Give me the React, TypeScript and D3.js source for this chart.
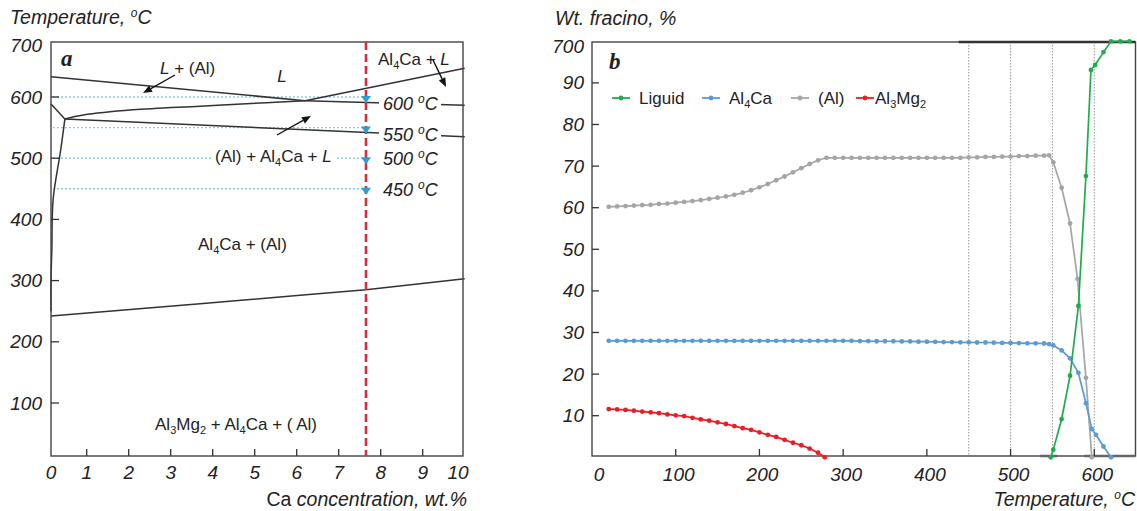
import React from 'react';
import * as d3 from 'd3';

const W = 1137;
const H = 511;

// ---------- Panel a: phase diagram ----------
const caTicks = [0, 1, 2, 3, 4, 5, 6, 7, 8, 9, 10];
const tempTicksA = [100, 200, 300, 400, 500, 600, 700];
const sectionCa = 7.65;
const sectionTemps = [600, 550, 500, 450];

type P = [number, number];
const liquidusAl: P[] = [[0.15, 633], [6.2, 594]];
const liquidusAl4Ca: P[] = [[6.2, 594], [10, 647]];
const eutecticLine: P[] = [[6.2, 594], [10, 586.5]];
const ternaryUpper: P[] = [[0.48, 564], [0.92, 570.5], [2.1, 579], [3.7, 585], [5.28, 590.7], [6.2, 594]];
const ternaryLower: P[] = [[0.48, 564], [10, 535]];
const leftUpper: P[] = [[0.15, 588.6], [0.48, 564]];
const solvusAl: P[] = [[0.48, 564], [0.38, 513], [0.2, 432], [0.17, 350], [0.15, 300], [0.15, 250]];
const solvusLow: P[] = [[0.15, 242], [3.7, 262], [6.08, 276], [7.65, 285], [10, 303]];

// ---------- Panel b: phase fractions ----------
const tempTicksB = [0, 100, 200, 300, 400, 500, 600];
const fracTicks = [10, 20, 30, 40, 50, 60, 70, 80, 90, 100];
const fracTickLabels = ['10', '20', '30', '40', '50', '60', '70', '80', '90', '700'];
const guideTemps = [450, 500, 550, 600];

const tempsLow = [20, 30, 40, 50, 60, 70, 80, 90, 100, 110, 120, 130, 140, 150, 160, 170, 180, 190, 200,
  210, 220, 230, 240, 250, 260, 270, 280, 290, 300, 310, 320, 330, 340, 350, 360, 370, 380, 390, 400,
  410, 420, 430, 440, 450, 460, 470, 480, 490, 500, 510, 520, 530, 540];

const al4caLow = [28.0, 28.0, 28.0, 28.0, 28.0, 28.0, 28.0, 28.0, 28.0, 28.0, 28.0, 28.0, 28.0, 28.0, 28.0,
  28.0, 28.0, 28.0, 28.0, 28.0, 28.0, 28.0, 28.0, 28.0, 28.0, 28.0, 28.0, 28.0, 28.0, 28.0, 27.95, 27.95,
  27.9, 27.9, 27.9, 27.85, 27.85, 27.8, 27.8, 27.75, 27.7, 27.7, 27.65, 27.65, 27.6, 27.6, 27.55, 27.5,
  27.5, 27.45, 27.4, 27.4, 27.35];
const al4caTailT = [546, 551, 561, 571, 581, 590, 597, 602, 611, 620];
const al4caTail = [27.2, 26.9, 25.7, 23.8, 20.3, 13.0, 6.8, 5.4, 2.6, 0];

const alLow = [60.2, 60.3, 60.4, 60.5, 60.6, 60.7, 60.9, 61.0, 61.2, 61.4, 61.6, 61.8, 62.1, 62.4, 62.7,
  63.1, 63.6, 64.2, 64.9, 65.7, 66.6, 67.5, 68.5, 69.5, 70.5, 71.4, 72.0, 72.0, 72.0, 72.0, 72.0, 72.0,
  72.0, 72.0, 72.0, 72.0, 72.0, 72.0, 72.0, 72.0, 72.0, 72.0, 72.0, 72.1, 72.1, 72.2, 72.2, 72.3, 72.3,
  72.4, 72.4, 72.5, 72.5];
const alTailT = [546, 551, 561, 571, 580, 590, 597];
const alTail = [72.6, 70.9, 64.8, 56.2, 42.9, 19.1, 0];

const mgT = [20, 30, 40, 50, 60, 70, 80, 90, 100, 110, 120, 130, 140, 150, 160, 170, 180, 190, 200, 210,
  220, 230, 240, 250, 260, 270, 278];
const al3mg2 = [11.6, 11.5, 11.4, 11.2, 11.0, 10.8, 10.6, 10.3, 10.1, 9.9, 9.5, 9.1, 8.8, 8.4, 8.0, 7.5,
  7.0, 6.6, 6.0, 5.4, 4.9, 4.2, 3.5, 2.9, 2.1, 1.1, 0];

const liquidT = [548, 551, 561, 571, 581, 590, 596, 601, 611, 620, 631, 642];
const liquid = [0, 1.8, 9.2, 19.6, 36.4, 67.6, 93.1, 94.3, 97.4, 100, 100, 100];

const COLORS = { liquid: '#1fad4b', al4ca: '#5b9bd5', al: '#a5a5a5', al3mg2: '#ec1c24' };

const FONT = "'Liberation Sans', Arial, Helvetica, sans-serif";
const SERIF = "'Liberation Serif', 'Times New Roman', serif";
const INK = '#222';
const TICK_FS = 19;
const TITLE_FS = 19.5;

const Deg = () => (
  <>
    <tspan dy={-7} fontSize={12}>o</tspan>
    <tspan dy={7}>C</tspan>
  </>
);
const Sub = ({ t }: { t: string }) => (
  <tspan dy={4} fontSize={11}>{t}</tspan>
);
const Al4Ca = () => (
  <>
    Al<Sub t="4" /><tspan dy={-4}>Ca</tspan>
  </>
);

function Arrow({ x1, y1, x2, y2 }: { x1: number; y1: number; x2: number; y2: number }) {
  const a = Math.atan2(y2 - y1, x2 - x1);
  const L = 9, w = 3.6;
  const bx = x2 - L * Math.cos(a), by = y2 - L * Math.sin(a);
  const p1 = [bx + w * Math.sin(a), by - w * Math.cos(a)];
  const p2 = [bx - w * Math.sin(a), by + w * Math.cos(a)];
  return (
    <g>
      <line x1={x1} y1={y1} x2={bx} y2={by} stroke="#111" strokeWidth={1.4} />
      <polygon points={`${x2},${y2} ${p1[0]},${p1[1]} ${p2[0]},${p2[1]}`} fill="#111" />
    </g>
  );
}

export default function App() {
  // Panel a scales
  const xA = d3.scaleLinear().domain([0, 10]).range([44.7, 464.7]);
  const yA = d3.scaleLinear().domain([100, 600]).range([403, 97]);
  const fA = { l: 51, r: 463, t: 42, b: 456 };
  const lineA = d3.line<P>().x(d => xA(d[0])).y(d => yA(d[1]));
  const smoothA = d3.line<P>().x(d => xA(d[0])).y(d => yA(d[1])).curve(d3.curveCatmullRom.alpha(0.5));

  // Panel b scales
  const xB = d3.scaleLinear().domain([0, 600]).range([592, 1094.3]);
  const yB = d3.scaleLinear().domain([0, 100]).range([457.3, 41.3]);
  const fB = { l: 592, r: 1135.5, t: 42, b: 456 };
  const lineB = d3.line<P>().x(d => xB(d[0])).y(d => yB(d[1]));

  const series = [
    { key: 'al3mg2', color: COLORS.al3mg2, pts: d3.zip(mgT, al3mg2) as P[] },
    { key: 'al', color: COLORS.al, pts: d3.zip(tempsLow.concat(alTailT), alLow.concat(alTail)) as P[] },
    { key: 'al4ca', color: COLORS.al4ca, pts: d3.zip(tempsLow.concat(al4caTailT), al4caLow.concat(al4caTail)) as P[] },
    { key: 'liquid', color: COLORS.liquid, pts: d3.zip(liquidT, liquid) as P[] },
  ];

  const legend = [
    { color: COLORS.liquid, x: 612, label: <>Liguid</> },
    { color: COLORS.al4ca, x: 702, label: <Al4Ca /> },
    { color: COLORS.al, x: 791, label: <>(Al)</> },
    { color: COLORS.al3mg2, x: 856, label: <>Al<Sub t="3" /><tspan dy={-4}>Mg</tspan><Sub t="2" /></> },
  ];

  const phaseLines = [liquidusAl, liquidusAl4Ca, eutecticLine, ternaryLower, leftUpper, solvusLow];
  const smoothLines = [ternaryUpper, solvusAl];
  const secX = xA(sectionCa);

  return (
    <svg width={W} height={H} viewBox={`0 0 ${W} ${H}`}
      style={{ position: 'absolute', left: 0, top: 0, background: '#fff' }}
      fontFamily={FONT}>
      <rect x={0} y={0} width={W} height={H} fill="#fff" />

      {/* ================= Panel a ================= */}
      <g>
        {sectionTemps.map(t => (
          <line key={'g' + t} x1={fA.l + 2} x2={secX - 3} y1={yA(t)} y2={yA(t)}
            stroke="#8ccbe6" strokeWidth={1.4} strokeDasharray="2,2" />
        ))}
        {phaseLines.map((p, i) => (
          <path key={'pl' + i} d={lineA(p) || ''} fill="none" stroke="#333" strokeWidth={1.5} />
        ))}
        {smoothLines.map((p, i) => (
          <path key={'sl' + i} d={smoothA(p) || ''} fill="none" stroke="#333" strokeWidth={1.5} />
        ))}

        <rect x={fA.l} y={fA.t} width={fA.r - fA.l} height={fA.b - fA.t} fill="none" stroke="#444" strokeWidth={1.4} />
        {tempTicksA.filter(v => v < 700).map(v => (
          <line key={'ya' + v} x1={fA.l} x2={fA.l + 8} y1={yA(v)} y2={yA(v)} stroke="#333" strokeWidth={1.3} />
        ))}
        {caTicks.filter(v => v > 0 && v < 10).map(v => (
          <line key={'xa' + v} x1={xA(v)} x2={xA(v)} y1={fA.b} y2={fA.b - 7} stroke="#333" strokeWidth={1.3} />
        ))}

        <rect x={212} y={146} width={124} height={22} fill="#fff" />
        <rect x={379} y={95} width={62} height={20} fill="#fff" />
        <rect x={379} y={125} width={62} height={20} fill="#fff" />

        <line x1={secX} x2={secX} y1={fA.t} y2={fA.b} stroke="#d52f3d" strokeWidth={2.6} strokeDasharray="8,4" />
        {sectionTemps.map(t => (
          <polygon key={'tri' + t}
            points={`${secX - 5},${yA(t) - 1} ${secX + 5},${yA(t) - 1} ${secX},${yA(t) + 6}`}
            fill="#2a9fd6" />
        ))}
        {sectionTemps.map((t, i) => (
          <text key={'tl' + t} x={383} y={yA(t) + (i < 2 ? 13 : 7)} fontSize={18} fontStyle="italic" fill={INK}>
            {t} <Deg />
          </text>
        ))}

        {tempTicksA.map(v => (
          <text key={'tya' + v} x={42} y={Math.max(yA(v), 45.5) + 6.5} textAnchor="end" fontSize={TICK_FS}
            fontStyle="italic" fill={INK}>{v}</text>
        ))}
        {caTicks.map(v => (
          <text key={'txa' + v} x={Math.min(Math.max(xA(v), 51), 458)} y={479} textAnchor="middle" fontSize={TICK_FS}
            fontStyle="italic" fill={INK}>{v}</text>
        ))}

        <text x={10} y={24} fontSize={TITLE_FS} fontStyle="italic" fill={INK}>Temperature, <Deg /></text>
        <text x={467} y={506} fontSize={TITLE_FS} textAnchor="end" fill={INK}>
          <tspan fontStyle="normal">Ca </tspan><tspan fontStyle="italic">concentration, wt.%</tspan>
        </text>
        <text x={61} y={66} fontSize={23} fontStyle="italic" fontWeight="bold" fontFamily={SERIF} fill={INK}>a</text>

        <text x={160} y={74} fontSize={17} fill={INK}><tspan fontStyle="italic">L</tspan> + (Al)</text>
        <text x={282} y={82} fontSize={17} fill={INK} textAnchor="middle" fontStyle="italic">L</text>
        <text x={378} y={65} fontSize={17} fill={INK}><Al4Ca /> + <tspan fontStyle="italic">L</tspan></text>
        <text x={215} y={162} fontSize={17} fill={INK}>(Al) + <Al4Ca /> + <tspan fontStyle="italic">L</tspan></text>
        <text x={198} y={250} fontSize={17} fill={INK}><Al4Ca /> + (Al)</text>
        <text x={155} y={430} fontSize={17} fill={INK}>
          Al<Sub t="3" /><tspan dy={-4}>Mg</tspan><Sub t="2" /><tspan dy={-4}> + </tspan><Al4Ca /> + ( Al)
        </text>

        <Arrow x1={175} y1={75} x2={143} y2={93} />
        <Arrow x1={433} y1={60} x2={446} y2={87} />
        <Arrow x1={277} y1={135} x2={311} y2={116} />
      </g>

      {/* ================= Panel b ================= */}
      <g>
        {guideTemps.map(t => (
          <line key={'vg' + t} x1={xB(t)} x2={xB(t)} y1={fB.t} y2={fB.b} stroke="#9a9a9a" strokeWidth={1}
            strokeDasharray="1.5,1.5" />
        ))}
        <line x1={xB(535)} x2={xB(556)} y1={fB.b} y2={fB.b} stroke="#b5b5b5" strokeWidth={3} />
        <line x1={xB(588)} x2={fB.r} y1={fB.b} y2={fB.b} stroke="#b5b5b5" strokeWidth={3} />

        <rect x={fB.l} y={fB.t} width={fB.r - fB.l} height={fB.b - fB.t} fill="none" stroke="#444" strokeWidth={1.4} />
        <line x1={xB(438)} x2={fB.r} y1={fB.t} y2={fB.t} stroke="#333" strokeWidth={2.6} />

        {fracTicks.filter(v => v < 100).map(v => (
          <line key={'yb' + v} x1={fB.l} x2={fB.l + 7} y1={yB(v)} y2={yB(v)} stroke="#333" strokeWidth={1.3} />
        ))}
        {tempTicksB.filter(v => v > 0).map(v => (
          <line key={'xb' + v} x1={xB(v)} x2={xB(v)} y1={fB.b} y2={fB.b - 7} stroke="#333" strokeWidth={1.3} />
        ))}

        {series.map(s => (
          <g key={s.key}>
            <path d={lineB(s.pts) || ''} fill="none" stroke={s.color} strokeWidth={1.7} />
            {s.pts.map((p, i) => (
              <circle key={i} cx={xB(p[0])} cy={yB(p[1])} r={2.4} fill={s.color} />
            ))}
          </g>
        ))}

        {fracTicks.map((v, i) => (
          <text key={'tyb' + v} x={584} y={Math.max(yB(v), 46) + 6.5} textAnchor="end" fontSize={TICK_FS}
            fontStyle="italic" fill={INK}>{fracTickLabels[i]}</text>
        ))}
        {tempTicksB.map(v => (
          <text key={'txb' + v} x={xB(v) + (v === 0 ? 7 : 3)} y={481} textAnchor="middle" fontSize={TICK_FS}
            fontStyle="italic" fill={INK}>{v}</text>
        ))}

        <text x={555} y={25} fontSize={TITLE_FS} fontStyle="italic" fill={INK}>Wt. fracino, %</text>
        <text x={1135} y={506} fontSize={TITLE_FS} fontStyle="italic" textAnchor="end" fill={INK}>Temperature, <Deg /></text>
        <text x={609} y={69} fontSize={23} fontStyle="italic" fontWeight="bold" fontFamily={SERIF} fill={INK}>b</text>

        {legend.map((l, i) => (
          <g key={'lg' + i}>
            <line x1={l.x} x2={l.x + 18} y1={98} y2={98} stroke={l.color} strokeWidth={1.8} />
            <circle cx={l.x + 9} cy={98} r={2.4} fill={l.color} />
            <text x={l.x + (i === 3 ? 19 : 27)} y={104} fontSize={17} fill={INK}>{l.label}</text>
          </g>
        ))}
      </g>
    </svg>
  );
}
